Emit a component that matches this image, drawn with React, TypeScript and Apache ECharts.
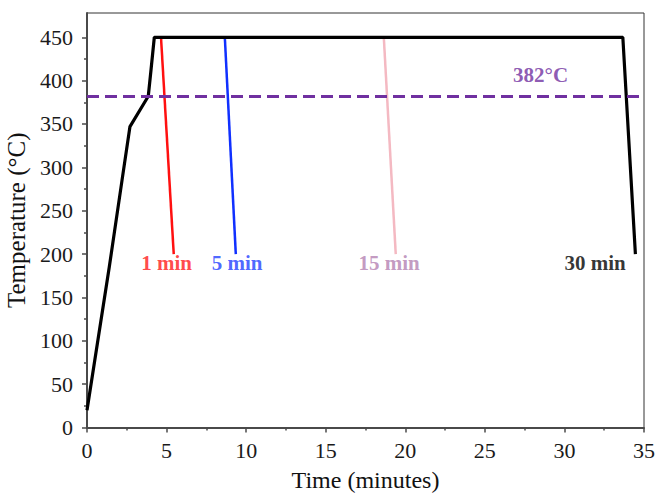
import React, { useEffect, useRef } from "react";
import * as echarts from "echarts";

const blackX = [0, 1.4, 2.2, 2.7, 3.85, 4.02, 4.23, 33.67, 34.46];
const blackY = [20, 185, 285, 347, 382, 412, 450, 450, 200];
const redX = [4.65, 5.45];
const redY = [450, 200];
const blueX = [8.66, 9.35];
const blueY = [450, 200];
const pinkX = [18.65, 19.4];
const pinkY = [450, 200];
const thresholdC = 382;

const labelTexts = ["1 min", "5 min", "15 min", "30 min", "382°C"];
const labelX = [5.0, 9.43, 18.98, 31.93, 28.5];
const labelY = [190, 190, 190, 190, 406];
const labelColors = ["#ff1a1a", "#1f3fff", "#b47fb2", "#000000", "#7030a0"];

const xTicks = [0, 5, 10, 15, 20, 25, 30, 35];
const yTicks = [0, 50, 100, 150, 200, 250, 300, 350, 400, 450];
const yMinorTicks = [25, 75, 125, 175, 225, 275, 325, 375, 425];

const zip = (xs: number[], ys: number[]) => xs.map((x, i) => [x, ys[i]]);

export default function App() {
  const ref = useRef<HTMLDivElement>(null);
  useEffect(() => {
    const chart = echarts.init(ref.current!, null, { renderer: "svg" });
    const font = "Liberation Serif";
    const axisCol = "#4a4a4a";
    chart.setOption({
      animation: false,
      backgroundColor: "#ffffff",
      textStyle: { fontFamily: font },
      grid: {
        left: 87,
        right: 12,
        top: 13,
        bottom: 65.5,
        containLabel: false,
        outerBoundsMode: "none",
        show: true,
        borderColor: "#333",
        borderWidth: 1,
      },
      xAxis: {
        type: "value",
        min: xTicks[0],
        max: xTicks[xTicks.length - 1],
        interval: 5,
        name: "Time (minutes)",
        nameLocation: "middle",
        nameGap: 40,
        nameTextStyle: { fontFamily: font, fontSize: 24, color: "#111" },
        axisLine: { show: true, lineStyle: { color: axisCol, width: 2 } },
        axisTick: { show: true, length: 5, lineStyle: { color: axisCol, width: 1.5 } },
        minorTick: { show: true, splitNumber: 2, length: 3, lineStyle: { color: axisCol, width: 1.5 } },
        axisLabel: { fontFamily: font, fontSize: 22, color: "#1a1a1a", margin: 12 },
        splitLine: { show: false },
      },
      yAxis: [
        {
          type: "value",
          min: 0,
          max: 478,
          name: "Temperature (°C)",
          nameLocation: "middle",
          nameGap: 53,
          nameTextStyle: { fontFamily: font, fontSize: 25, color: "#111" },
          axisLine: { show: true, lineStyle: { color: axisCol, width: 2 } },
          axisTick: { show: true, length: 5, customValues: yTicks, lineStyle: { color: axisCol, width: 1.5 } },
          axisLabel: { fontFamily: font, fontSize: 22, color: "#1a1a1a", margin: 14, customValues: yTicks },
          splitLine: { show: false },
        },
        {
          type: "value",
          min: 0,
          max: 478,
          position: "left",
          axisLine: { show: false },
          axisTick: { show: true, length: 3, customValues: yMinorTicks, lineStyle: { color: axisCol, width: 1.5 } },
          axisLabel: { show: false, customValues: yMinorTicks },
          splitLine: { show: false },
        },
      ],
      series: [
        {
          type: "line",
          data: zip(blackX, blackY),
          symbol: "none",
          lineStyle: { color: "#000", width: 3.2 },
          z: 3,
          markLine: {
            silent: true,
            symbol: "none",
            label: { show: false },
            lineStyle: { color: "#7030a0", width: 3, type: [12, 6] },
            data: [{ yAxis: thresholdC }],
          },
        },
        { type: "line", data: zip(redX, redY), symbol: "none", lineStyle: { color: "#ff1010", width: 2.5 }, z: 2 },
        { type: "line", data: zip(blueX, blueY), symbol: "none", lineStyle: { color: "#1030ff", width: 2.5 }, z: 2 },
        { type: "line", data: zip(pinkX, pinkY), symbol: "none", lineStyle: { color: "#f4b9c2", width: 2.5 }, z: 2 },
        {
          type: "scatter",
          symbolSize: 0,
          z: 5,
          data: labelTexts.map((t, i) => ({
            value: [labelX[i], labelY[i]],
            label: {
              show: true,
              formatter: t,
              position: "inside",
              color: labelColors[i],
              fontFamily: font,
              fontWeight: "bold",
              fontSize: 21,
            },
          })),
        },
      ],
    });
    return () => chart.dispose();
  }, []);
  return (
    <div
      ref={ref}
      style={{ position: "fixed", left: 0, top: 0, width: 656, height: 493, background: "#fff" }}
    />
  );
}
